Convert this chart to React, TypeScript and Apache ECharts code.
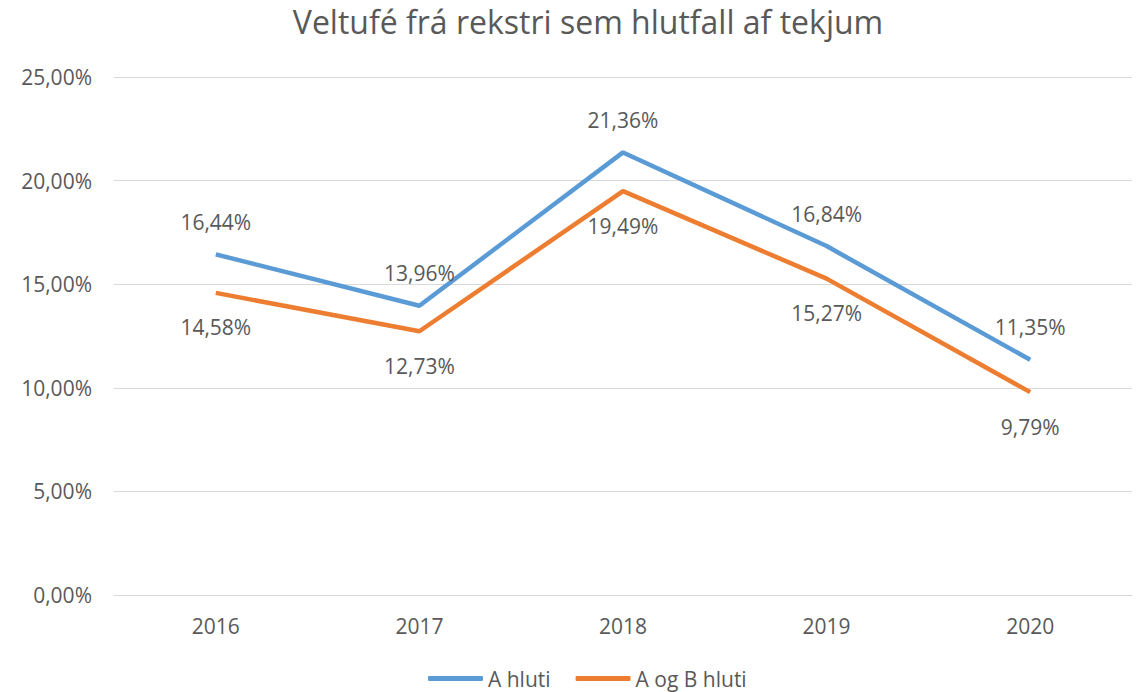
import React, { useEffect, useRef } from "react";
import * as echarts from "echarts";

const categories = ["2016", "2017", "2018", "2019", "2020"];
const seriesA = [16.44, 13.96, 21.36, 16.84, 11.35];
const seriesAB = [14.58, 12.73, 19.49, 15.27, 9.79];
const seriesNames = ["A hluti", "A og B hluti"];
const titleText = "Veltufé frá rekstri sem hlutfall af tekjum";

const fmt = (v: number) => v.toFixed(2).replace(".", ",") + "%";
const FONT = "'Open Sans', sans-serif";
const TXT = "#595959";
const FS = 21;

export default function App() {
  const ref = useRef<HTMLDivElement>(null);
  useEffect(() => {
    if (!ref.current) return;
    const chart = echarts.init(ref.current, undefined, { renderer: "svg" });
    chart.setOption({
      animation: false,
      backgroundColor: "#ffffff",
      textStyle: { fontFamily: FONT },
      title: {
        text: titleText,
        left: 583,
        textAlign: "center",
        top: 0,
        textStyle: { fontFamily: FONT, fontSize: 32, fontWeight: 400, color: TXT },
      },
      legend: {
        top: 668,
        left: 428,
        padding: 0,
        itemWidth: 55,
        itemHeight: 5,
        itemGap: 25,
        icon: "roundRect",
        textStyle: { fontFamily: FONT, fontSize: FS, color: TXT },
        data: seriesNames,
      },
      grid: { left: 114, right: 9, top: 77, bottom: 97, containLabel: false },
      xAxis: {
        type: "category",
        data: categories,
        boundaryGap: true,
        axisLine: { show: true, lineStyle: { color: "#D9D9D9", width: 1 } },
        axisTick: { show: false },
        axisLabel: { color: TXT, fontSize: FS, fontFamily: FONT, margin: 20 },
      },
      yAxis: {
        type: "value",
        min: 0,
        max: 25,
        interval: 5,
        axisLine: { show: false },
        axisTick: { show: false },
        splitLine: { lineStyle: { color: "#D9D9D9", width: 1 } },
        axisLabel: { color: TXT, fontSize: FS, fontFamily: FONT, margin: 22, formatter: (v: number) => fmt(v) },
      },
      series: [
        {
          name: seriesNames[0],
          type: "line",
          data: seriesA,
          symbol: "circle",
          symbolSize: 0.1,
          showSymbol: true,
          lineStyle: { color: "#5B9BD5", width: 4.5 },
          itemStyle: { color: "#5B9BD5" },
          label: {
            show: true,
            position: "top",
            distance: 22,
            color: TXT,
            fontSize: FS,
            fontFamily: FONT,
            formatter: (p: any) => fmt(p.value),
          },
        },
        {
          name: seriesNames[1],
          type: "line",
          data: seriesAB,
          symbol: "circle",
          symbolSize: 0.1,
          showSymbol: true,
          lineStyle: { color: "#ED7D31", width: 4.5 },
          itemStyle: { color: "#ED7D31" },
          label: {
            show: true,
            position: "bottom",
            distance: 24,
            color: TXT,
            fontSize: FS,
            fontFamily: FONT,
            formatter: (p: any) => fmt(p.value),
          },
        },
      ],
    });
    return () => chart.dispose();
  }, []);
  return (
    <div
      ref={ref}
      style={{ position: "fixed", left: 0, top: 0, width: 1141, height: 692 }}
    />
  );
}
